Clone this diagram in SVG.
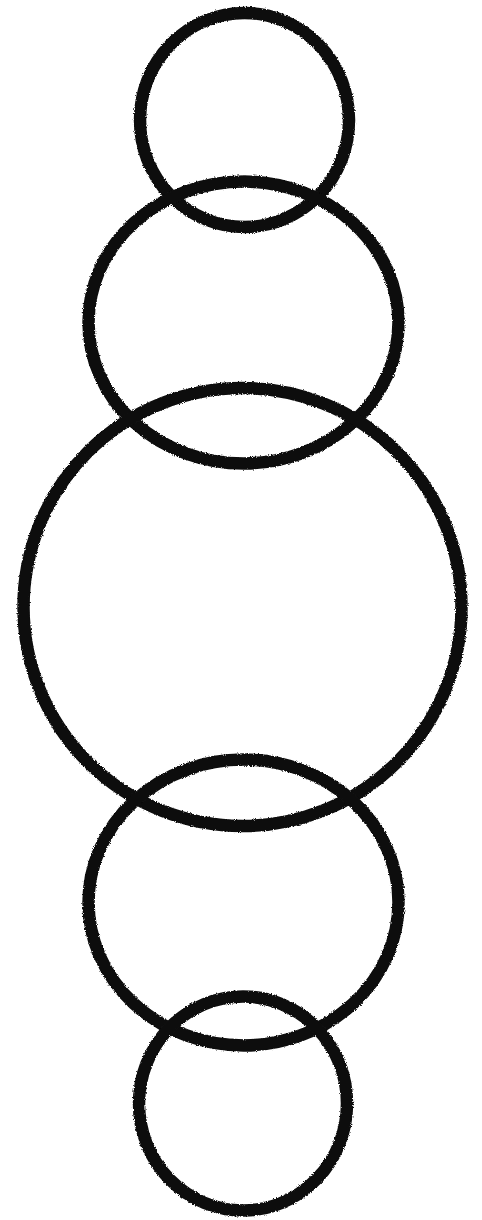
<svg xmlns="http://www.w3.org/2000/svg" width="482" height="1220" viewBox="0 0 482 1220">
  <defs>
    <filter id="rough" x="-5%" y="-5%" width="110%" height="110%">
      <feTurbulence type="fractalNoise" baseFrequency="0.9" numOctaves="2" seed="3" result="n"/>
      <feDisplacementMap in="SourceGraphic" in2="n" scale="3" xChannelSelector="R" yChannelSelector="G"/>
    </filter>
  </defs>
  <style>
    .ring { fill: none; stroke: #111; stroke-width: 12.5; filter: url(#rough); }
  </style>
  <rect width="482" height="1220" fill="#ffffff"/>
  <g id="ring1"><ellipse class="ring" cx="244.5" cy="120" rx="104.5" ry="107"/></g>
  <g id="ring2"><ellipse class="ring" cx="243.5" cy="322.5" rx="155" ry="141"/></g>
  <g id="ring3"><ellipse class="ring" cx="242.5" cy="607" rx="219" ry="219"/></g>
  <g id="ring4"><ellipse class="ring" cx="243.5" cy="902.5" rx="155" ry="143"/></g>
  <g id="ring5"><ellipse class="ring" cx="243" cy="1103.5" rx="104" ry="107"/></g>
</svg>
